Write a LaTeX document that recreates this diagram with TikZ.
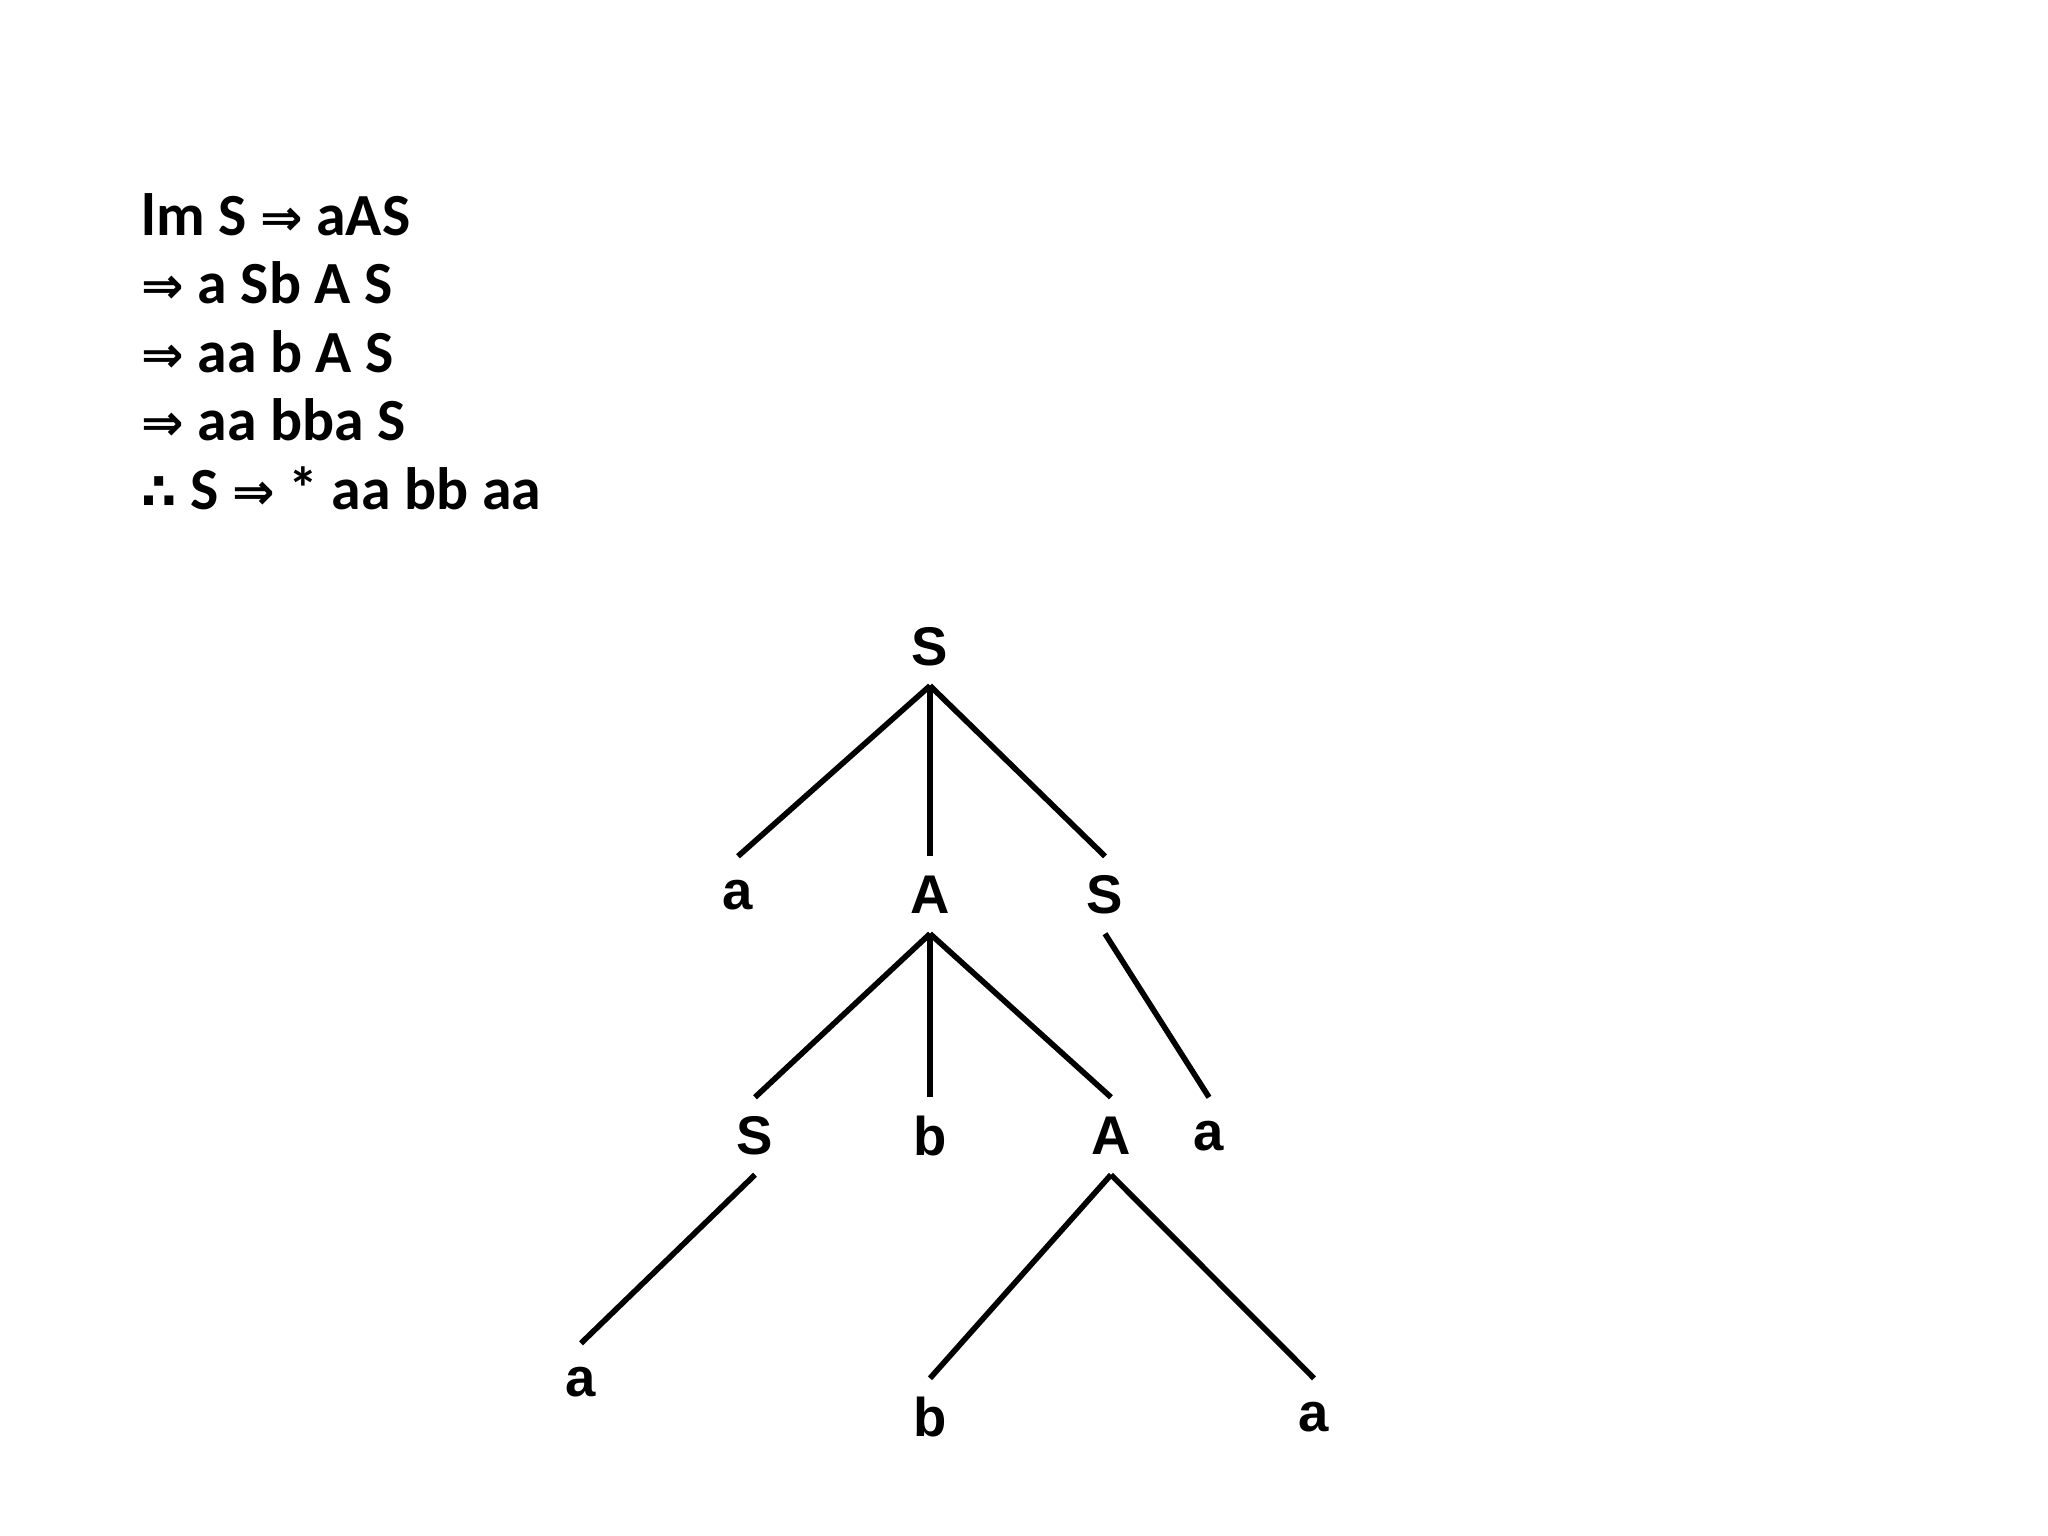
\documentclass[tikz,border=0pt]{standalone}
\usepackage{fontspec}
\setmainfont{Carlito}
\newfontfamily\treefont{Liberation Sans}
\newfontfamily\symfont[Scale=0.85]{DejaVu Sans}
\usetikzlibrary{positioning}
\newcommand{\yields}{{\symfont\bfseries ⇒}}
\newcommand{\hence}{{\symfont\bfseries ∴}}
\tikzset{
    derivline/.style={anchor=base west, inner sep=0pt, font=\fontsize{17}{20}\selectfont\bfseries},
    sym/.style={circle, minimum size=0.76cm, inner sep=0pt, font=\treefont\fontsize{15.5}{18}\selectfont\bfseries},
    branch/.style={line width=1.6pt}
}

\begin{document}
\begin{tikzpicture}[x=0.01cm, y=-0.01cm]
            \useasboundingbox (0,0) rectangle (2048,1536);

            % leftmost derivation
            \node[derivline] (lm) at (141,235) {lm S \yields{} aAS};
            \node[derivline] (d1) at (141,303.5) {\yields{} a Sb A S};
            \node[derivline] (d2) at (141,372) {\yields{} aa b A S};
            \node[derivline] (d3) at (141,440.5) {\yields{} aa bba S};
            \node[derivline] (res) at (141,509) {\hence{} S \yields{} * aa bb aa};

            % parse tree
            \node[sym] (S0) at (930,647) {S};
            \node[sym] (a1) at (738,895) {a};
            \node[sym] (A1) at (930,895) {A};
            \node[sym] (S1) at (1105,895) {S};
            \node[sym] (S2) at (755,1136) {S};
            \node[sym] (b2) at (930,1136) {b};
            \node[sym] (A2) at (1111,1136) {A};
            \node[sym] (a2) at (1209,1136) {a};
            \node[sym] (a3) at (581,1382) {a};
            \node[sym] (b3) at (930,1417) {b};
            \node[sym] (a4) at (1314,1417) {a};

            \draw[branch] (S0.south) -- (a1.north);
            \draw[branch] (S0.south) -- (A1.north);
            \draw[branch] (S0.south) -- (S1.north);
            \draw[branch] (A1.south) -- (S2.north);
            \draw[branch] (A1.south) -- (b2.north);
            \draw[branch] (A1.south) -- (A2.north);
            \draw[branch] (S1.south) -- (a2.north);
            \draw[branch] (S2.south) -- (a3.north);
            \draw[branch] (A2.south) -- (b3.north);
            \draw[branch] (A2.south) -- (a4.north);
        \end{tikzpicture}
\end{document}
